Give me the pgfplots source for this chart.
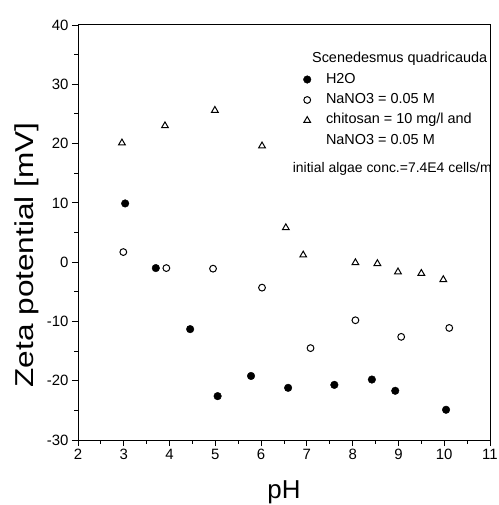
\documentclass[border=0pt]{standalone}
\usepackage{fontspec}
\setmainfont{Liberation Sans}
\usepackage{graphicx}
\usepackage{pgfplots}
\pgfplotsset{compat=1.18}
\begin{document}
\begin{tikzpicture}
\begin{axis}[name=ax, scale only axis, width=412bp, height=415bp,
  xmin=2, xmax=11, ymin=-30, ymax=40,
  xtick={2,3,...,11}, minor x tick num=1,
  ytick={-30,-20,...,40}, minor y tick num=1,
  tick align=outside, tick pos=left,
  major tick length=6bp, minor tick length=3.5bp,
  tick style={black, line width=0.9pt},
  axis line style={line width=1pt},
  ticklabel style={font=\fontsize{15}{15}\selectfont},
  /pgf/number format/assume math mode=true,
  xlabel={pH}, ylabel={\scalebox{1.22}[1]{Zeta potential [mV]}},
  label style={font=\fontsize{26}{26}\selectfont},
  xlabel style={at={(axis description cs:0.5,-0.142)}, anchor=base},
  ylabel style={at={(axis description cs:-0.109,0.446)}, anchor=base},
  legend style={at={(axis description cs:0.528,0.892)}, anchor=north west,
    draw=none, fill=none, font=\fontsize{14.5}{14.5}\selectfont, row sep=5.5bp,
    column sep=12bp,
    nodes={inner xsep=3bp, inner ysep=1pt, text height=10bp, text depth=3bp}},
  legend cell align=left,
]
\addplot[only marks, mark=*, mark size=3.8bp, black] coordinates {
(3.03,9.9) (3.70,-1.0) (4.45,-11.3) (5.05,-22.6) (5.78,-19.2) (6.59,-21.2)
(7.60,-20.7) (8.42,-19.8) (8.93,-21.7) (10.04,-24.9)};
\addlegendentry{H2O}
\addplot[only marks, mark=o, mark size=3.4bp, black, line width=1pt] coordinates {
(2.99,1.7) (3.93,-1.0) (4.95,-1.1) (6.02,-4.3) (7.08,-14.5) (8.06,-9.8)
(9.06,-12.6) (10.11,-11.1)};
\addlegendentry{NaNO3 = 0.05 M}
\addplot[only marks, mark=triangle, mark size=3.9bp, black, line width=1pt] coordinates {
(2.96,20.1) (3.90,23.0) (4.99,25.6) (6.02,19.6) (6.54,5.8) (6.92,1.2)
(8.06,-0.1) (8.54,-0.25) (8.99,-1.65) (9.50,-1.9) (9.98,-2.95)};
\addlegendentry{chitosan = 10 mg/l and}
\addlegendimage{empty legend}
\addlegendentry{NaNO3 = 0.05 M}
\node[anchor=base west, font=\fontsize{14.5}{14.5}\selectfont, inner sep=0pt] at (axis cs:7.11,33.6) {Scenedesmus quadricauda};
\node[anchor=base west, font=\fontsize{14}{14}\selectfont, inner sep=0pt] at (axis cs:6.69,15.1) {initial algae conc.=7.4E4 cells/m};
\end{axis}
\pgfresetboundingbox
\path ([xshift=-78bp,yshift=-65bp]ax.south west) rectangle ([xshift=9bp,yshift=25bp]ax.north east);
\end{tikzpicture}
\end{document}
